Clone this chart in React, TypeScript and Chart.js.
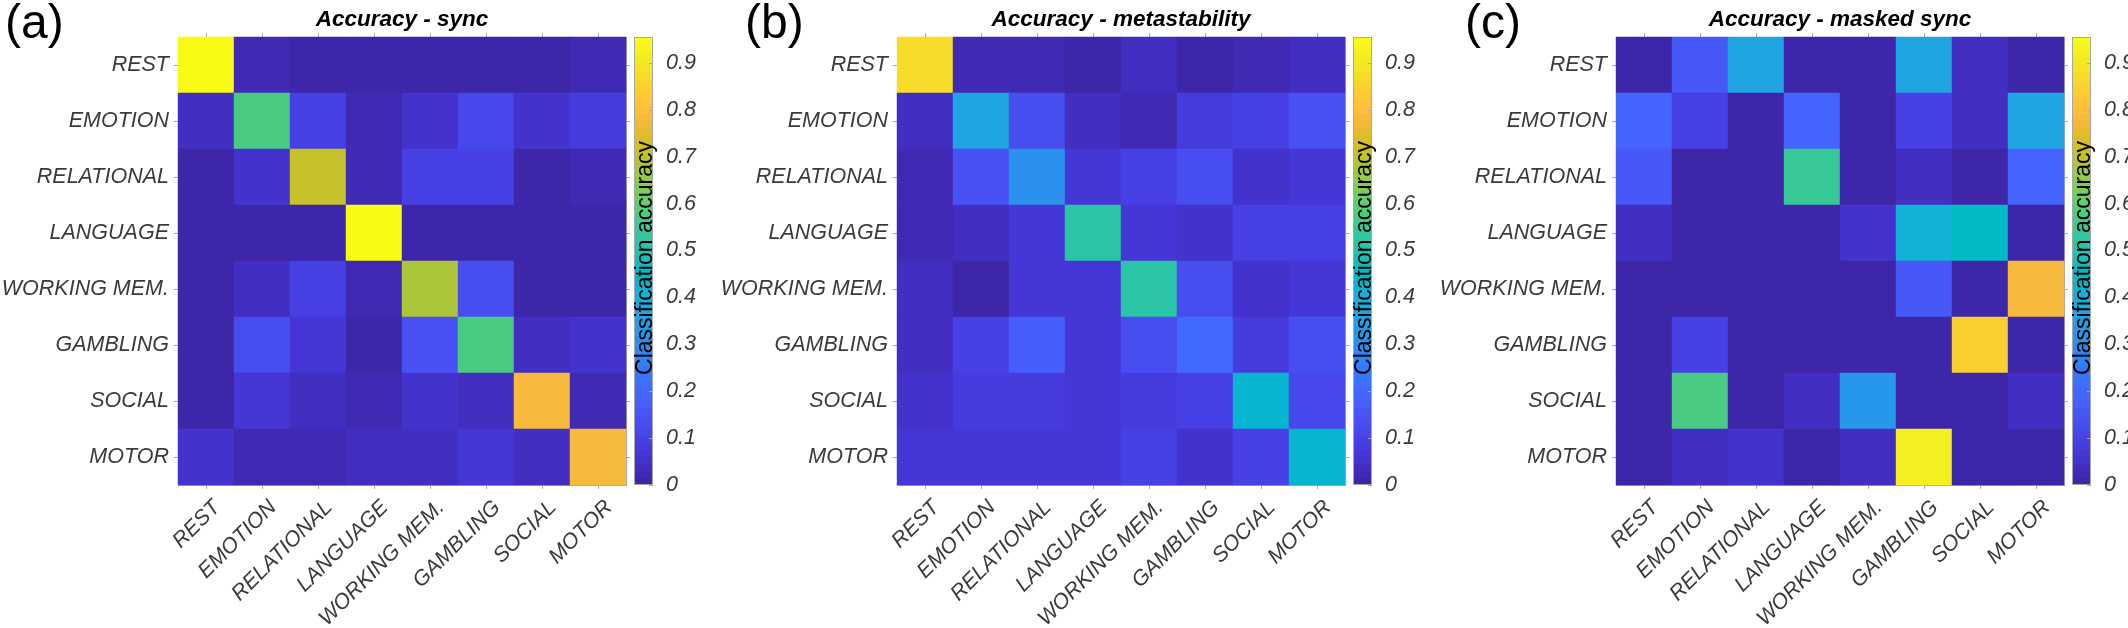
import React, { useEffect, useRef } from "react";
import { Chart, registerables } from "chart.js";

Chart.register(...registerables);

// ---------------- data ----------------
const categories = [
  "REST",
  "EMOTION",
  "RELATIONAL",
  "LANGUAGE",
  "WORKING MEM.",
  "GAMBLING",
  "SOCIAL",
  "MOTOR",
];

// rows = true class (top to bottom), columns = predicted class (left to right)
const syncAccuracy = [
  [0.95, 0.02, 0.005, 0.005, 0.005, 0.005, 0.005, 0.02],
  [0.04, 0.57, 0.09, 0.02, 0.05, 0.11, 0.045, 0.08],
  [0.01, 0.05, 0.71, 0.015, 0.1, 0.1, 0.01, 0.02],
  [0.01, 0.01, 0.01, 0.95, 0.005, 0.005, 0.005, 0.005],
  [0.01, 0.04, 0.09, 0.02, 0.68, 0.12, 0.01, 0.01],
  [0.01, 0.12, 0.07, 0.01, 0.14, 0.57, 0.04, 0.05],
  [0.01, 0.06, 0.04, 0.02, 0.05, 0.03, 0.79, 0.02],
  [0.05, 0.02, 0.02, 0.03, 0.04, 0.06, 0.03, 0.79],
];

const metastabilityAccuracy = [
  [0.875, 0.015, 0.015, 0.01, 0.03, 0.005, 0.02, 0.03],
  [0.035, 0.37, 0.13, 0.04, 0.025, 0.085, 0.09, 0.135],
  [0.02, 0.14, 0.3, 0.06, 0.1, 0.13, 0.05, 0.06],
  [0.02, 0.03, 0.06, 0.52, 0.06, 0.05, 0.09, 0.09],
  [0.035, 0.005, 0.06, 0.06, 0.52, 0.125, 0.055, 0.065],
  [0.04, 0.095, 0.17, 0.06, 0.125, 0.2, 0.085, 0.13],
  [0.05, 0.085, 0.085, 0.065, 0.08, 0.09, 0.43, 0.105],
  [0.065, 0.065, 0.07, 0.07, 0.095, 0.055, 0.09, 0.43],
];

const maskedSyncAccuracy = [
  [0.01, 0.16, 0.37, 0.01, 0.01, 0.36, 0.04, 0.01],
  [0.19, 0.09, 0.01, 0.19, 0.01, 0.09, 0.03, 0.37],
  [0.16, 0.01, 0.01, 0.55, 0.01, 0.03, 0.01, 0.19],
  [0.04, 0.01, 0.01, 0.01, 0.055, 0.41, 0.455, 0.01],
  [0.01, 0.01, 0.01, 0.01, 0.01, 0.16, 0.01, 0.79],
  [0.01, 0.09, 0.01, 0.01, 0.01, 0.01, 0.845, 0.01],
  [0.01, 0.57, 0.01, 0.04, 0.32, 0.01, 0.01, 0.04],
  [0.01, 0.035, 0.05, 0.01, 0.04, 0.92, 0.01, 0.01],
];

const panelTitles = [
  "Accuracy - sync",
  "Accuracy - metastability",
  "Accuracy - masked sync",
];
const panelLetters = ["(a)", "(b)", "(c)"];
const colorLimits = [0, 0.955];
const colorbarTicks = [0, 0.1, 0.2, 0.3, 0.4, 0.5, 0.6, 0.7, 0.8, 0.9];
const colorbarTickLabels = ["0", "0.1", "0.2", "0.3", "0.4", "0.5", "0.6", "0.7", "0.8", "0.9"];
const colorbarLabel = "Classification accuracy";

// ---------------- styling ----------------
const PARULA: number[][] = [
  [0.2422, 0.1504, 0.6603], [0.2504, 0.165, 0.7076], [0.2578, 0.1818, 0.7511], [0.2647, 0.1978, 0.7952],
  [0.2706, 0.2147, 0.8364], [0.2751, 0.2342, 0.871], [0.2783, 0.2559, 0.8991], [0.2803, 0.2782, 0.9221],
  [0.2813, 0.3006, 0.9414], [0.281, 0.3228, 0.9579], [0.2795, 0.3447, 0.9717], [0.276, 0.3667, 0.9829],
  [0.2699, 0.3892, 0.9906], [0.2602, 0.4123, 0.9952], [0.244, 0.4358, 0.9988], [0.2206, 0.4603, 0.9973],
  [0.1963, 0.4847, 0.9892], [0.1834, 0.5074, 0.9798], [0.1786, 0.5289, 0.9682], [0.1764, 0.5499, 0.952],
  [0.1687, 0.5703, 0.9359], [0.154, 0.5902, 0.9218], [0.146, 0.6091, 0.9079], [0.138, 0.6276, 0.8973],
  [0.1248, 0.6459, 0.8883], [0.1113, 0.6635, 0.8763], [0.0952, 0.6798, 0.8598], [0.0689, 0.6948, 0.8394],
  [0.0297, 0.7082, 0.8163], [0.0036, 0.7203, 0.7917], [0.0067, 0.7312, 0.766], [0.0433, 0.7411, 0.7394],
  [0.0964, 0.75, 0.712], [0.1408, 0.7584, 0.6842], [0.1717, 0.767, 0.6554], [0.1938, 0.7758, 0.6251],
  [0.2161, 0.7843, 0.5923], [0.247, 0.7918, 0.5567], [0.2906, 0.7973, 0.5188], [0.3406, 0.8008, 0.4789],
  [0.3909, 0.8029, 0.4354], [0.4456, 0.8024, 0.3909], [0.5044, 0.7993, 0.348], [0.5616, 0.7942, 0.3045],
  [0.6174, 0.7876, 0.2612], [0.672, 0.7793, 0.2227], [0.7242, 0.7698, 0.191], [0.7738, 0.7598, 0.1646],
  [0.8203, 0.7498, 0.1535], [0.8634, 0.7406, 0.1596], [0.9035, 0.733, 0.1774], [0.9393, 0.7288, 0.21],
  [0.9728, 0.7298, 0.2394], [0.9956, 0.7434, 0.2371], [0.997, 0.7659, 0.2199], [0.9952, 0.7893, 0.2028],
  [0.9892, 0.8136, 0.1885], [0.9786, 0.8386, 0.1766], [0.9676, 0.8639, 0.1643], [0.961, 0.889, 0.1537],
  [0.9597, 0.9135, 0.1423], [0.9628, 0.9373, 0.1265], [0.9691, 0.9606, 0.1064], [0.9769, 0.9839, 0.0805],
];

function parulaIndexColor(i: number) {
  const c = PARULA[Math.max(0, Math.min(PARULA.length - 1, i))];
  return `rgb(${Math.round(c[0] * 255)},${Math.round(c[1] * 255)},${Math.round(c[2] * 255)})`;
}

function parulaColor(v: number) {
  const [lo, hi] = colorLimits;
  const t = (v - lo) / (hi - lo);
  return parulaIndexColor(Math.floor(t * PARULA.length));
}

const FONT = "'Liberation Sans', Arial, Helvetica, sans-serif";
const AXIS_GRAY = "#a8a8a8";
const TEXT_GRAY = "#3a3a3a";

const PANEL_WIDTH = 719;
const PANEL_OFFSETS = [0, 719, 1438];
const LETTER_X = [5, 26, 27];
const CANVAS_H = 628;
const HEAT_CANVAS_W = 632;
const AREA_LEFT = 178;
const AREA_BOTTOM = 485;
const AREA_TOP = 37;
const CBAR_CANVAS_W = 92;
const CBAR_LEFT_PAD = 4;
const CBAR_WIDTH = 19;

const tickFont = { family: FONT, size: 21.5, style: "italic" as const };

function Heatmap({ matrix, title, letter, letterX }: { matrix: number[][]; title: string; letter: string; letterX: number }) {
  const ref = useRef<HTMLCanvasElement>(null);
  useEffect(() => {
    if (!ref.current) return;
    const points: { x: string; y: string; v: number }[] = [];
    categories.forEach((row, r) =>
      categories.forEach((col, c) => points.push({ x: col, y: row, v: matrix[r][c] }))
    );
    const letterPlugin = {
      id: "panelLetter",
      afterDraw(chart: any) {
        const ctx = chart.ctx;
        ctx.save();
        ctx.font = `48px ${FONT}`;
        ctx.fillStyle = "#000";
        ctx.textAlign = "left";
        ctx.textBaseline = "alphabetic";
        ctx.fillText(letter, letterX, 38);
        ctx.restore();
      },
    };
    const gridCfg = {
      display: true,
      drawOnChartArea: false,
      drawTicks: true,
      tickLength: 4,
      color: AXIS_GRAY,
      offset: false,
    };
    const borderCfg = { display: true, color: AXIS_GRAY, width: 1 };
    const cellRadius = (ctx: any) => {
      const a = ctx.chart.chartArea;
      if (!a) return 0;
      return a.width / categories.length / Math.SQRT2 + 0.3;
    };
    const chart = new Chart(ref.current, {
      type: "scatter",
      data: {
        datasets: [
          {
            data: points as any,
            pointStyle: "rect",
            pointBorderWidth: 0,
            pointBackgroundColor: (ctx: any) => (ctx.raw ? parulaColor(ctx.raw.v) : "#000"),
            pointRadius: cellRadius,
            pointHoverRadius: cellRadius,
          } as any,
        ],
      },
      options: {
        animation: false,
        responsive: false,
        events: [],
        layout: { padding: 0 },
        plugins: {
          legend: { display: false },
          tooltip: { enabled: false },
          title: {
            display: true,
            text: title,
            fullSize: false,
            color: "#000",
            font: { family: FONT, size: 22.5, weight: "bold", style: "italic", lineHeight: 1.1 },
            padding: { top: 7.8, bottom: 0.45 },
          },
        },
        scales: {
          x: {
            type: "category",
            labels: categories,
            offset: true,
            position: "bottom",
            grid: gridCfg,
            border: borderCfg,
            ticks: {
              autoSkip: false,
              maxRotation: 45,
              minRotation: 45,
              padding: 6,
              labelOffset: 11,
              font: tickFont,
              color: TEXT_GRAY,
            },
            afterFit: (s: any) => {
              s.height = CANVAS_H - AREA_BOTTOM;
            },
          },
          x2: {
            type: "category",
            labels: categories,
            offset: true,
            position: "top",
            grid: gridCfg,
            border: borderCfg,
            ticks: { display: false },
            afterFit: (s: any) => {
              s.height = 4;
            },
          },
          y: {
            type: "category",
            labels: categories,
            offset: true,
            position: "left",
            grid: gridCfg,
            border: borderCfg,
            ticks: { autoSkip: false, padding: 5, font: tickFont, color: TEXT_GRAY },
            afterFit: (s: any) => {
              s.width = AREA_LEFT;
            },
          },
          y2: {
            type: "category",
            labels: categories,
            offset: true,
            position: "right",
            grid: gridCfg,
            border: borderCfg,
            ticks: { display: false },
            afterFit: (s: any) => {
              s.width = 6;
            },
          },
        } as any,
      },
      plugins: [letterPlugin],
    });
    return () => chart.destroy();
  }, [matrix, title, letter, letterX]);
  return <canvas ref={ref} width={HEAT_CANVAS_W} height={CANVAS_H} style={{ position: "absolute", left: 0, top: 0, width: HEAT_CANVAS_W, height: CANVAS_H }} />;
}

function Colorbar() {
  const ref = useRef<HTMLCanvasElement>(null);
  useEffect(() => {
    if (!ref.current) return;
    const outlinePlugin = {
      id: "cbarOutline",
      afterDraw(chart: any) {
        const a = chart.chartArea;
        const ctx = chart.ctx;
        const y = chart.scales.y;
        ctx.save();
        ctx.strokeStyle = AXIS_GRAY;
        ctx.lineWidth = 1;
        ctx.strokeRect(a.left + 0.5, a.top + 0.5, a.right - a.left - 1, a.bottom - a.top - 1);
        colorbarTicks.forEach((t) => {
          const py = Math.round(y.getPixelForValue(t)) + 0.5;
          ctx.beginPath();
          ctx.moveTo(a.right - 4, py);
          ctx.lineTo(a.right, py);
          ctx.stroke();
        });
        ctx.translate(a.right - 1, (a.top + a.bottom) / 2 - 3);
        ctx.rotate(-Math.PI / 2);
        ctx.font = `23px ${FONT}`;
        ctx.fillStyle = "#000";
        ctx.textAlign = "center";
        ctx.textBaseline = "alphabetic";
        ctx.fillText(colorbarLabel, 0, 0);
        ctx.restore();
      },
    };
    const chart = new Chart(ref.current, {
      type: "bar",
      data: {
        labels: [colorbarLabel],
        datasets: [
          {
            data: [[colorLimits[0], colorLimits[1]]] as any,
            barPercentage: 1,
            categoryPercentage: 1,
            borderWidth: 0,
            borderSkipped: false,
            inflateAmount: 0,
            backgroundColor: (ctx: any) => {
              const chart = ctx.chart;
              const a = chart.chartArea;
              if (!a) return "transparent";
              const g = chart.ctx.createLinearGradient(0, a.bottom, 0, a.top);
              const n = PARULA.length;
              for (let i = 0; i < n; i++) {
                const col = parulaIndexColor(i);
                g.addColorStop(i / n, col);
                g.addColorStop(Math.min(1, (i + 1) / n - 1e-6), col);
              }
              g.addColorStop(1, parulaIndexColor(n - 1));
              return g;
            },
          },
        ],
      },
      options: {
        animation: false,
        responsive: false,
        events: [],
        layout: { padding: { left: CBAR_LEFT_PAD, top: AREA_TOP, bottom: CANVAS_H - AREA_BOTTOM, right: 0 } },
        plugins: { legend: { display: false }, tooltip: { enabled: false }, title: { display: false } },
        scales: {
          x: { display: false, offset: true },
          y: {
            position: "right",
            min: colorLimits[0],
            max: colorLimits[1],
            bounds: "data",
            grid: { display: false },
            border: { display: false },
            afterBuildTicks: (s: any) => {
              s.ticks = colorbarTicks.map((v) => ({ value: v }));
            },
            ticks: {
              padding: 5,
              font: tickFont,
              color: TEXT_GRAY,
              callback: (_v: any, i: number) => colorbarTickLabels[i],
            },
            afterFit: (s: any) => {
              s.width = CBAR_CANVAS_W - CBAR_LEFT_PAD - CBAR_WIDTH;
            },
          },
        } as any,
      },
      plugins: [outlinePlugin],
    });
    return () => chart.destroy();
  }, []);
  return (
    <canvas
      ref={ref}
      width={CBAR_CANVAS_W}
      height={CANVAS_H}
      style={{ position: "absolute", left: HEAT_CANVAS_W - 2, top: 0, width: CBAR_CANVAS_W, height: CANVAS_H }}
    />
  );
}

const matrices = [syncAccuracy, metastabilityAccuracy, maskedSyncAccuracy];

export default function App() {
  useEffect(() => {
    document.body.style.margin = "0";
    document.body.style.background = "#fff";
  }, []);
  return (
    <div style={{ position: "relative", width: 2128, height: CANVAS_H, overflow: "hidden", background: "#fff" }}>
      {matrices.map((m, i) => (
        <div key={i} style={{ position: "absolute", left: PANEL_OFFSETS[i], top: 0, width: PANEL_WIDTH + 80, height: CANVAS_H }}>
          <Heatmap matrix={m} title={panelTitles[i]} letter={panelLetters[i]} letterX={LETTER_X[i]} />
          <Colorbar />
        </div>
      ))}
    </div>
  );
}
